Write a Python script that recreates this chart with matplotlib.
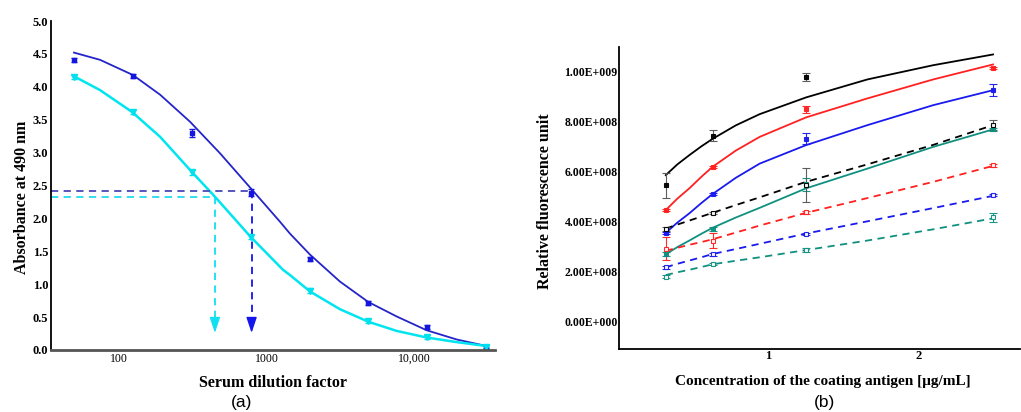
import numpy as np
import matplotlib
matplotlib.use("Agg")
import matplotlib.pyplot as plt
from matplotlib.ticker import FuncFormatter

plt.rcParams['font.family'] = ['Liberation Serif', 'DejaVu Serif']

#------------------------------panel (a) data------------------------------#
dilution = [50, 125, 312, 781, 1953, 4883, 12207, 30518]
abs_blue = [4.41, 4.17, 3.30, 2.39, 1.39, 0.72, 0.35, 0.05]
err_blue = [0.03, 0.03, 0.06, 0.05, 0.03, 0.03, 0.03, 0.02]
abs_cyan = [4.15, 3.62, 2.70, 1.72, 0.90, 0.44, 0.20, 0.05]
err_cyan = [0.03, 0.03, 0.04, 0.03, 0.04, 0.03, 0.03, 0.02]

# fitted curves
fit_dil_blue = [50, 75, 125, 191, 304, 485, 781, 1233, 1439, 1967, 3136, 4872, 7574, 12080, 19270, 30740]
fit_blue = [4.52, 4.41, 4.18, 3.88, 3.47, 2.99, 2.46, 1.95, 1.77, 1.45, 1.04, 0.73, 0.51, 0.30, 0.16, 0.06]
fit_dil_cyan = [50, 75, 123, 191, 312, 448, 781, 1291, 1439, 1967, 3136, 4872, 7574, 12080, 19270, 30740]
fit_cyan = [4.16, 3.95, 3.62, 3.24, 2.71, 2.33, 1.72, 1.22, 1.14, 0.89, 0.62, 0.43, 0.29, 0.19, 0.12, 0.06]

titer_blue = 793
titer_cyan = 448
cut_blue = 2.42
cut_cyan = 2.32
arrow_tip = 0.26
arrow_base = 0.46

#------------------------------panel (b) data------------------------------#
conc = [0.3125, 0.625, 1.25, 2.5]
fit_conc = [0.3125, 0.39, 0.47, 0.55, 0.625, 0.78, 0.94, 1.25, 1.66, 2.1, 2.5]

series_b = [
    # (colour, solid?, points, errors, fitted line), values in 1e8 RFU
    ("#000000", True,  [5.46, 7.44, 9.80, np.nan], [0.50, 0.22, 0.17, 0.0],
     [5.87, 6.30, 6.67, 7.02, 7.32, 7.86, 8.31, 8.98, 9.70, 10.27, 10.70]),
    ("#ff2020", True,  [4.47, 6.20, 8.50, 10.16], [0.05, 0.05, 0.15, 0.05],
     [4.47, 4.93, 5.34, 5.80, 6.20, 6.85, 7.40, 8.18, 8.94, 9.70, 10.30]),
    ("#1a1aee", True,  [3.56, 5.12, 7.33, 9.27], [0.05, 0.05, 0.21, 0.24],
     [3.56, 3.97, 4.34, 4.75, 5.11, 5.76, 6.33, 7.07, 7.87, 8.67, 9.27]),
    ("#10907f", True,  [2.70, 3.73, 5.50, 7.70], [0.08, 0.08, 0.27, 0.05],
     [2.70, 2.99, 3.25, 3.52, 3.76, 4.17, 4.56, 5.34, 6.13, 7.00, 7.70]),
    ("#000000", False, [3.73, 4.36, 5.47, 7.87], [0.08, 0.05, 0.68, 0.19],
     [3.73, 3.89, 4.05, 4.21, 4.36, 4.67, 4.98, 5.60, 6.30, 7.08, 7.87]),
    ("#ff2020", False, [2.93, 3.24, 4.39, 6.27], [0.47, 0.30, 0.06, 0.06],
     [2.84, 2.96, 3.08, 3.19, 3.30, 3.57, 3.85, 4.36, 4.95, 5.60, 6.24]),
    ("#1a1aee", False, [2.18, 2.70, 3.52, 5.07], [0.05, 0.05, 0.04, 0.05],
     [2.18, 2.32, 2.45, 2.58, 2.71, 2.91, 3.12, 3.53, 4.02, 4.55, 5.04]),
    ("#10907f", False, [1.80, 2.31, 2.87, 4.18], [0.06, 0.05, 0.07, 0.19],
     [1.87, 1.98, 2.08, 2.19, 2.30, 2.44, 2.58, 2.87, 3.25, 3.70, 4.14]),
]


def sci_label(v, pos):
    if v == 0:
        return "0.00E+000"
    e = int(np.floor(np.log10(abs(v))))
    return "%.2fE+%03d" % (v / 10**e, e)


def titer_arrow(ax, x, cut, line_color, arrow_color):
    ax.plot([35, x], [cut, cut], color=line_color, lw=1.3, ls=(0, (4, 3)))
    ax.plot([x, x], [cut, arrow_base], color=arrow_color, lw=1.3, ls=(0, (4, 3)))
    ax.annotate("", xy=(x, arrow_tip), xytext=(x, arrow_base),
                arrowprops=dict(arrowstyle="-|>,head_width=0.32,head_length=0.95",
                                color=arrow_color, lw=1.0, shrinkA=0, shrinkB=0))


fig = plt.figure(figsize=(10.21, 4.12), dpi=100)

#--------------------------------panel (a)---------------------------------#
ax = fig.add_axes([0.050, 0.1505, 0.4348, 0.7985])
ax.plot(fit_dil_blue, fit_blue, color="#2424c8", lw=1.3)
ax.plot(fit_dil_cyan, fit_cyan, color="#00e5ef", lw=1.8)
ax.errorbar(dilution, abs_blue, yerr=err_blue, fmt="s", ms=3.5, color="#1515e0",
            capsize=2, elinewidth=0.8)
ax.errorbar(dilution, abs_cyan, yerr=err_cyan, fmt="v", ms=4, color="#00e0ee",
            capsize=2, elinewidth=0.8)

titer_arrow(ax, titer_blue, cut_blue, "#4848b8", "#1515ee")
titer_arrow(ax, titer_cyan, cut_cyan, "#20dcec", "#10e0f0")

ax.set_xscale("log")
ax.set_xlim(35, 35000)
ax.set_ylim(0, 5)
ax.set_xticks([100, 1000, 10000])
ax.set_xticklabels(["100", "1000", "10,000"], fontsize=8.5)
ax.minorticks_off()
ax.set_yticks(np.arange(0, 5.01, 0.5))
ax.set_yticklabels(["%.1f" % v for v in np.arange(0, 5.01, 0.5)], fontsize=9, fontweight="bold")
ax.tick_params(length=0, pad=2)
for s in ["top", "right"]:
    ax.spines[s].set_visible(False)
ax.spines["bottom"].set_color("#555555")
ax.spines["bottom"].set_linewidth(2)
ax.spines["left"].set_linewidth(1.3)
ax.set_xlabel("Serum dilution factor", fontsize=11.5, fontweight="bold")
ax.set_ylabel("Absorbance at 490 nm", fontsize=11.5, fontweight="bold")
ax.xaxis.set_label_coords(0.5, -0.075)
ax.yaxis.set_label_coords(-0.048, 0.465)
fig.text(0.237, 0.022, "(a)", fontsize=12.5, family="Liberation Sans", ha="center", va="center")

#--------------------------------panel (b)---------------------------------#
bx = fig.add_axes([0.6063, 0.153, 0.3927, 0.733])
for color, solid, pts, err, fit in series_b:
    ls = "-" if solid else (0, (4, 3))
    bx.plot(fit_conc, np.array(fit) * 1e8, color=color, lw=1.3, ls=ls)
    ecol = "#555555" if color == "#000000" else color
    bx.errorbar(conc, np.array(pts) * 1e8, yerr=np.array(err) * 1e8, fmt="s", ms=3.5,
                color=color, mfc=color if solid else "white", mew=0.8,
                ecolor=ecol, elinewidth=0.8, capsize=3, alpha=0.95)

bx.set_xlim(0, 2.68)
bx.set_ylim(-1.09e8, 1.1e9)
bx.set_xticks([1, 2])
bx.set_xticklabels(["1", "2"], fontsize=9, fontweight="bold")
bx.set_yticks(np.arange(0, 1.01e9, 2e8))
bx.yaxis.set_major_formatter(FuncFormatter(sci_label))
for lab in bx.get_yticklabels():
    lab.set_fontsize(8.5)
    lab.set_fontweight("bold")
bx.tick_params(length=0, pad=1)
for s in ["top", "right"]:
    bx.spines[s].set_visible(False)
bx.spines["left"].set_linewidth(1.3)
bx.spines["bottom"].set_linewidth(1.3)
bx.set_xlabel("Concentration of the coating antigen [\u03bcg/mL]", fontsize=11, fontweight="bold")
bx.set_ylabel("Relative fluorescence unit", fontsize=11.5, fontweight="bold")
bx.xaxis.set_label_coords(0.508, -0.085)
bx.yaxis.set_label_coords(-0.165, 0.49)
fig.text(0.808, 0.022, "(b)", fontsize=12.5, family="Liberation Sans", ha="center", va="center")

plt.savefig("out.png", dpi=100)
